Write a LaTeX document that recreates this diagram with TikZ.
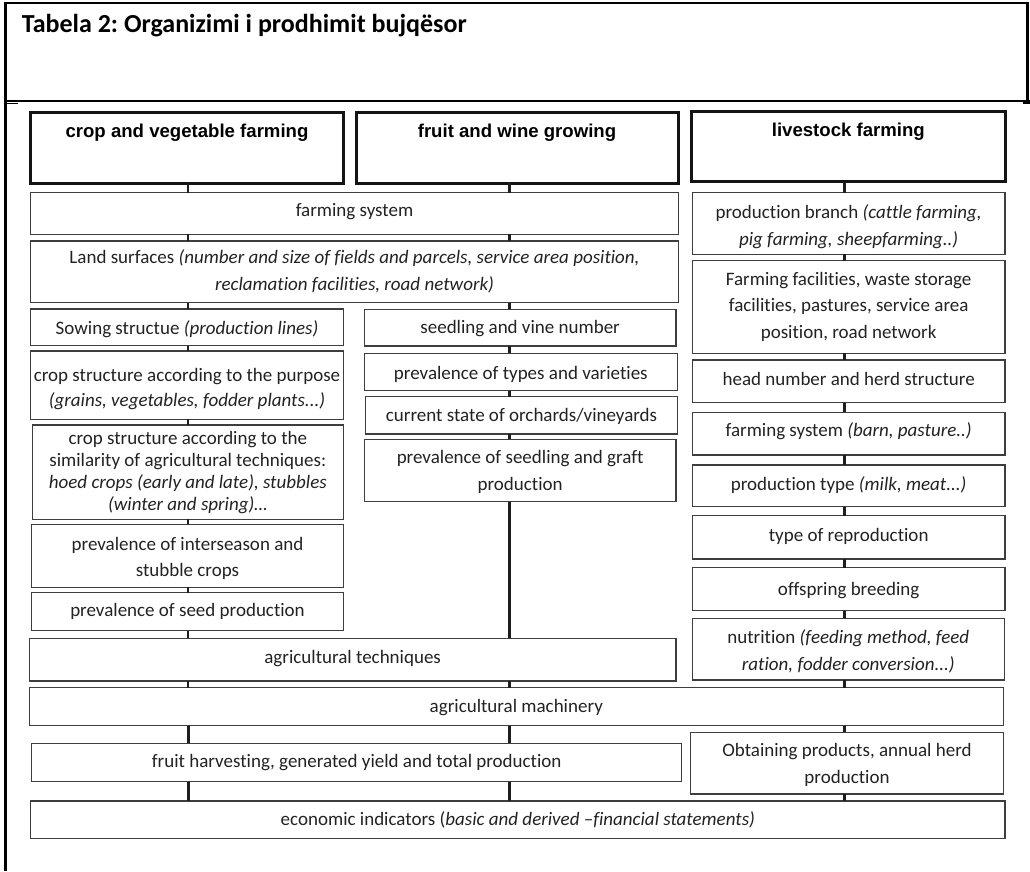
\documentclass[tikz,border=0pt]{standalone}
\usepackage{fontspec}
\setmainfont{Carlito}[Ligatures={NoCommon}]
\newfontfamily\hdrfont{Liberation Sans}
\usetikzlibrary{fit}
\frenchspacing
\definecolor{boxgray}{RGB}{62,62,62}
\definecolor{textgray}{RGB}{34,34,34}
\definecolor{linkgray}{RGB}{30,30,30}
\newcommand\mybox[6][box]{\node[#1, fit={(#3,#4) (#5,#6)}] (#2) {};}
\newcommand\tl[4]{\node[txt] (#1) at (#2.center |- 0,#3) {#4};}
\newcommand\lk[4][link]{\draw[#1] (#2.south -| #4) -- (#3.north -| #4);}
\begin{document}
\begin{tikzpicture}[x=1pt,y=-1pt,
  box/.style={draw=boxgray, line width=1.3pt, inner sep=0pt, outer sep=0pt},
  hbox/.style={draw=black!92, line width=3pt, inner sep=0pt, outer sep=0pt},
  txt/.style={anchor=base, inner sep=0pt, font=\fontsize{19}{23}\selectfont, text=textgray},
  htxt/.style={anchor=base, inner sep=0pt, font=\hdrfont\bfseries\fontsize{18.6}{22}\selectfont, text=black},
  frame/.style={draw=black, line width=2.4pt},
  link/.style={draw=linkgray, line width=2.2pt},
  thicklink/.style={draw=linkgray, line width=3pt}]
\useasboundingbox (0,0) rectangle (1030,871);
% outer table frame
\draw[frame] (5.3,871) -- (5.3,2.8) -- (1027.5,2.8) -- (1027.5,101);
\draw[frame] (4.1,101) -- (1030,101);
\draw[draw=black, line width=1.3pt] (5,103.3) -- (18,103.3);
\draw[draw=black, line width=3pt] (1023,102.3) -- (1030,102.3);
% title
\node[anchor=base west, inner sep=0pt, font=\bfseries\fontsize{26}{30}\selectfont] (title) at (21.7,32) {Tabela 2: Organizimi i prodhimit bujqësor};
% column coordinates
\coordinate (cL) at (188,0);
\coordinate (cM) at (509.5,0);
\coordinate (cR) at (844.5,0);
% header boxes
\mybox[hbox]{h1}{30.7}{112.7}{343.3}{183.3}
\mybox[hbox]{h2}{356}{112.7}{678}{183.3}
\mybox[hbox]{h3}{691.7}{111.7}{1005}{181.7}
\node[htxt] (h1t) at (h1.center |- 0,137) {crop and vegetable farming};
\node[htxt] (h2t) at (h2.center |- 0,137) {fruit and wine growing};
\node[htxt] (h3t) at (h3.center |- 0,136.7) {livestock farming};
% shared boxes
\mybox{fs}{30.7}{192.7}{678.3}{234.3}
\tl{fs1}{fs}{216}{farming system}
\mybox{land}{30.7}{241}{678.3}{302.7}
\tl{land1}{land}{263.3}{Land surfaces \textit{(number and size of fields and parcels, service area position,}}
\tl{land2}{land}{290}{\textit{reclamation facilities, road network)}}
% left column
\mybox{sow}{30.7}{309}{343.3}{345.7}
\tl{sow1}{sow}{334.5}{Sowing structue \textit{(production lines)}}
\mybox{purp}{30.7}{351}{343.3}{419.3}
\tl{purp1}{purp}{381.2}{crop structure according to the purpose}
\tl{purp2}{purp}{406.5}{\textit{(grains, vegetables, fodder plants...)}}
\mybox{sim}{32.3}{425}{343.3}{519.3}
\tl{sim1}{sim}{444}{crop structure according to the}
\tl{sim2}{sim}{466}{similarity of agricultural techniques:}
\tl{sim3}{sim}{488}{\textit{hoed crops (early and late), stubbles}}
\tl{sim4}{sim}{510}{\textit{(winter and spring)…}}
\mybox{inter}{31.7}{524.3}{343.3}{587.3}
\tl{inter1}{inter}{550}{prevalence of interseason and}
\tl{inter2}{inter}{576.7}{stubble crops}
\mybox{seed}{31.7}{592.7}{343.3}{630.7}
\tl{seed1}{seed}{616.7}{prevalence of seed production}
% middle column
\mybox{seedl}{364.3}{309.3}{676}{346}
\tl{seedl1}{seedl}{333.3}{seedling and vine number}
\mybox{types}{364.3}{353.3}{677.3}{390.7}
\tl{types1}{types}{379.3}{prevalence of types and varieties}
\mybox{curr}{365.7}{396.7}{677.3}{434}
\tl{curr1}{curr}{421.7}{current state of orchards/vineyards}
\mybox{graft}{364.3}{439.3}{676}{501.7}
\tl{graft1}{graft}{463.3}{prevalence of seedling and graft}
\tl{graft2}{graft}{490}{production}
% right column
\mybox{pb}{692.3}{192.7}{1005}{254.3}
\tl{pb1}{pb}{218.3}{production branch \textit{(cattle farming,}}
\tl{pb2}{pb}{245}{\textit{pig farming, sheepfarming..)}}
\mybox{fac}{692.3}{260.7}{1005}{353.3}
\tl{fac1}{fac}{285}{Farming facilities, waste storage}
\tl{fac2}{fac}{311.7}{facilities, pastures, service area}
\tl{fac3}{fac}{338.3}{position, road network}
\mybox{head}{692.3}{360}{1005}{402.7}
\tl{head1}{head}{385}{head number and herd structure}
\mybox{barn}{692.3}{412.3}{1005}{455}
\tl{barn1}{barn}{436.7}{farming system \textit{(barn, pasture..)}}
\mybox{ptype}{692.3}{465}{1005}{506.7}
\tl{ptype1}{ptype}{490}{production type \textit{(milk, meat...)}}
\mybox{repro}{692.3}{515.7}{1005}{559}
\tl{repro1}{repro}{541.7}{type of reproduction}
\mybox{off}{692.3}{567.7}{1005}{610.7}
\tl{off1}{off}{595}{offspring breeding}
\mybox{nut}{692.3}{618.3}{1004.3}{680}
\tl{nut1}{nut}{643.3}{nutrition \textit{(feeding method, feed}}
\tl{nut2}{nut}{670.7}{\textit{ration, fodder conversion...)}}
% lower shared boxes
\mybox{agri}{29.3}{638.3}{676}{681}
\tl{agri1}{agri}{663.3}{agricultural techniques}
\mybox{mach}{29.3}{687.5}{1003.3}{725.8}
\tl{mach1}{mach}{712.5}{agricultural machinery}
\mybox{fruit}{31.7}{743.3}{681.7}{781.7}
\tl{fruit1}{fruit}{767}{fruit harvesting, generated yield and total production}
\mybox{obt}{690.7}{732.3}{1003.3}{794}
\tl{obt1}{obt}{756.7}{Obtaining products, annual herd}
\tl{obt2}{obt}{783.3}{production}
\mybox{econ}{30.7}{801}{1005}{838.3}
\tl{econ1}{econ}{825.5}{economic indicators (\textit{basic and derived –financial statements)}}
% connectors: left
\lk{h1}{fs}{cL}
\lk{fs}{land}{cL}
\lk{land}{sow}{cL}
\lk{sow}{purp}{cL}
\lk{purp}{sim}{cL}
\lk{sim}{inter}{cL}
\lk{inter}{seed}{cL}
\lk{seed}{agri}{cL}
\lk{agri}{mach}{cL}
\lk[thicklink]{mach}{fruit}{cL}
\lk[thicklink]{fruit}{econ}{cL}
% connectors: middle
\lk{h2}{fs}{cM}
\lk{fs}{land}{cM}
\lk{land}{seedl}{cM}
\lk{seedl}{types}{cM}
\lk{types}{curr}{cM}
\lk{curr}{graft}{cM}
\lk{graft}{agri}{cM}
\lk{agri}{mach}{cM}
\lk[thicklink]{mach}{fruit}{cM}
\lk[thicklink]{fruit}{econ}{cM}
% connectors: right
\lk{h3}{pb}{cR}
\lk{pb}{fac}{cR}
\lk{fac}{head}{cR}
\lk{head}{barn}{cR}
\lk{barn}{ptype}{cR}
\lk{ptype}{repro}{cR}
\lk{repro}{off}{cR}
\lk{off}{nut}{cR}
\lk{nut}{mach}{cR}
\lk{mach}{obt}{cR}
\lk{obt}{econ}{cR}
\end{tikzpicture}
\end{document}
